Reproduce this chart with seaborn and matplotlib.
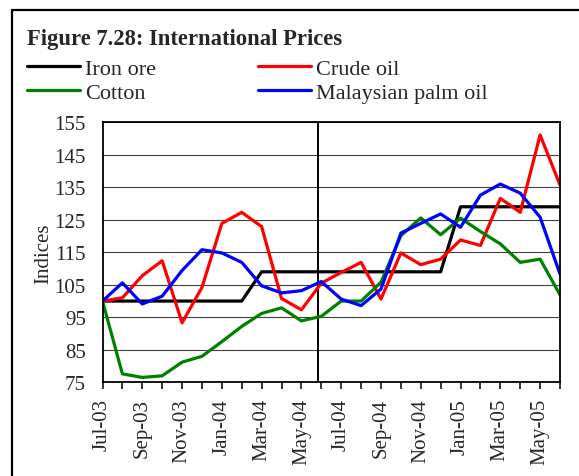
#load libraries
import pandas as pd
import seaborn as sns
import matplotlib.pyplot as plt
from matplotlib.lines import Line2D

#data (indices, Jul-03 = 100)
months = ['Jul-03', 'Aug-03', 'Sep-03', 'Oct-03', 'Nov-03', 'Dec-03',
          'Jan-04', 'Feb-04', 'Mar-04', 'Apr-04', 'May-04', 'Jun-04',
          'Jul-04', 'Aug-04', 'Sep-04', 'Oct-04', 'Nov-04', 'Dec-04',
          'Jan-05', 'Feb-05', 'Mar-05', 'Apr-05', 'May-05', 'Jun-05']
iron_ore = [100, 100, 100, 100, 100, 100, 100, 100, 109, 109, 109, 109,
            109, 109, 109, 109, 109, 109, 129, 129, 129, 129, 129, 129]
crude_oil = [100, 101, 107.8, 112.4, 93.3, 104.2, 123.9, 127.3, 122.9, 100.8, 97.3, 105.5,
             108.8, 111.9, 100.6, 114.8, 111.2, 112.9, 118.8, 117.1, 131.6, 127.3, 151.1, 135.7]
cotton = [100, 77.6, 76.5, 77.0, 81.2, 83.0, 87.5, 92.2, 96.2, 97.9, 93.9, 95.3,
          100, 100, 105.8, 120.1, 125.6, 120.4, 125.5, 121.4, 117.6, 111.9, 112.9, 101.9]
palm_oil = [100, 105.6, 99.1, 101.5, 109.4, 115.8, 114.8, 111.9, 104.7, 102.5, 103.2, 106.0,
            100.6, 98.6, 103.7, 120.9, 123.9, 126.8, 122.7, 132.6, 136.0, 133.2, 125.8, 108.3]

series = ['Iron ore', 'Crude oil', 'Cotton', 'Malaysian palm oil']
colors = {'Iron ore': 'black', 'Crude oil': '#ff0000',
          'Cotton': '#008000', 'Malaysian palm oil': '#0000ff'}

#long form table for seaborn
frames = []
for name, vals in zip(series, [iron_ore, crude_oil, cotton, palm_oil]):
    frames.append(pd.DataFrame({'month': range(len(months)), 'value': vals, 'series': name}))
df = pd.concat(frames, ignore_index=True)

sns.set_style('white')
plt.rcParams['font.family'] = ['Liberation Serif', 'DejaVu Serif']

fig = plt.figure(figsize=(5.79, 4.77), dpi=100)
ax = fig.add_axes([102.5/579, 1 - 383.3/477, 457.5/579, 260/477])

sns.lineplot(data=df, x='month', y='value', hue='series', hue_order=series,
             palette=colors, linewidth=2.3, ax=ax)
ax.get_legend().remove()

ax.set_xlim(0, len(months) - 1)
ax.set_ylim(75, 155)
ax.set_yticks(range(75, 156, 10))
ax.set_xticks(range(len(months)))
ax.set_xticklabels([m if i % 2 == 0 else '' for i, m in enumerate(months)])
ax.tick_params(axis='x', length=4.8, width=1.1, pad=6.5, labelrotation=90,
               labelsize=15, bottom=True, color='black')
ax.tick_params(axis='y', length=0, pad=12, labelsize=15)
ax.yaxis.grid(True, color='#404040', linewidth=0.8)
ax.xaxis.grid(False)
ax.set_axisbelow(True)
for s in ax.spines.values():
    s.set_color('black')
    s.set_linewidth(1.3)
ax.axvline(10.83, color='black', linewidth=1.4, zorder=1)
ax.set_xlabel('')
ax.set_ylabel('Indices', fontsize=15, labelpad=1)

#legend above the plot, two columns
handles, labels = ax.get_legend_handles_labels()
order = [0, 2, 1, 3]
fig.legend([handles[i] for i in order], [labels[i] for i in order],
           loc='upper left', bbox_to_anchor=(27/579, 1 - 59/477), ncol=2,
           frameon=False, fontsize=16, handlelength=2.4, handletextpad=0.2,
           columnspacing=4.6, labelspacing=0.17, borderpad=0, borderaxespad=0)

fig.text(27/579, 1 - 45/477, 'Figure 7.28: International Prices',
         fontsize=16.3, fontweight='bold', va='baseline')

#outer frame (left and top edges)
fig.add_artist(Line2D([11.5/579, 11.5/579], [0, 1 - 11/477], transform=fig.transFigure,
                      color='black', linewidth=1.6))
fig.add_artist(Line2D([11.5/579, 1], [1 - 11/477, 1 - 11/477], transform=fig.transFigure,
                      color='black', linewidth=1.6))

fig.savefig('out.png', dpi=100)
